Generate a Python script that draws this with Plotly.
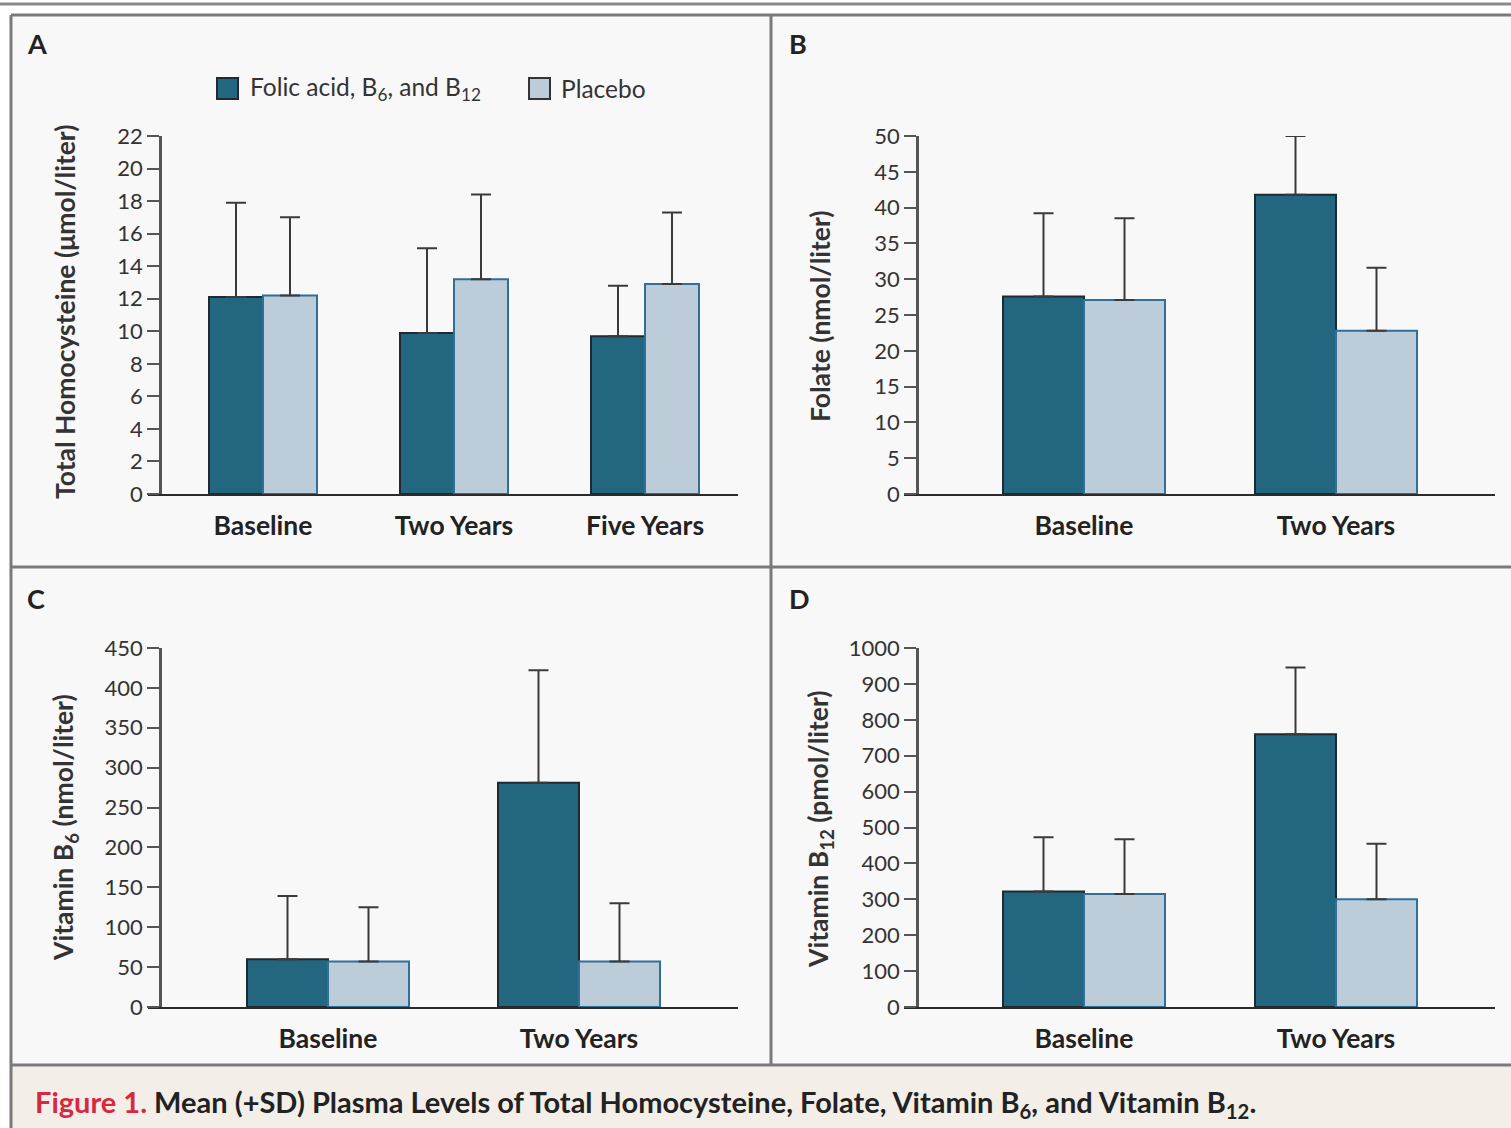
import plotly.graph_objects as go

W, H = 1511, 1128

# ---------------- data ----------------
cats_a = ["Baseline", "Two Years", "Five Years"]
hcy_active = [12.1, 9.9, 9.7]
hcy_active_sd = [5.8, 5.2, 3.1]
hcy_placebo = [12.2, 13.2, 12.9]
hcy_placebo_sd = [4.8, 5.2, 4.4]

cats_b = ["Baseline", "Two Years"]
fol_active = [27.6, 41.8]
fol_active_sd = [11.6, 8.2]
fol_placebo = [27.1, 22.8]
fol_placebo_sd = [11.4, 8.8]

cats_c = ["Baseline", "Two Years"]
b6_active = [60, 281]
b6_active_sd = [79, 141]
b6_placebo = [57, 57]
b6_placebo_sd = [68, 73]

cats_d = ["Baseline", "Two Years"]
b12_active = [322, 760]
b12_active_sd = [151, 186]
b12_placebo = [315, 300]
b12_placebo_sd = [152, 155]

legend_labels = ["Folic acid, B<sub>6</sub>, and B<sub>12</sub>", "Placebo"]
y_titles = ["Total Homocysteine (μmol/liter)", "Folate (nmol/liter)",
            "Vitamin B<sub>6</sub> (nmol/liter)", "Vitamin B<sub>12</sub> (pmol/liter)"]
panel_letters = ["A", "B", "C", "D"]
caption_lead = "Figure 1."
caption_text = ("Mean (+SD) Plasma Levels of Total Homocysteine, Folate, Vitamin B<sub>6</sub>, "
                "and Vitamin B<sub>12</sub>.")

# ---------------- style ----------------
DARK = "#236680"
DARK_LINE = "#1f2a30"
LIGHT = "#bccdd9"
LIGHT_LINE = "#2f6f98"
ERR = "#3a3a3a"
AX = "#2b2b2b"
TICK = "#555555"
PANEL_BG = "#f8f8f8"
CAP_BG = "#f3efe8"
FRAME = "#7a7a7a"
FAM = "Lato, 'Open Sans', sans-serif"


def nfont(size, color="#333", weight="normal"):
    return dict(family=FAM, size=size, color=color, weight=weight)


def px(x):
    return x / W


def py(y):
    return 1 - y / H


fig = go.Figure()

# xd: extent of the baseline (x-axis line); yx: pixel position of the y-axis line
panels = [
    dict(cats=cats_a, act=hcy_active, act_sd=hcy_active_sd, pla=hcy_placebo, pla_sd=hcy_placebo_sd,
         xd=(148, 738), yx=160, yd=(136, 494), yr=22, dt=2, center0=263, step=191, bw=54),
    dict(cats=cats_b, act=fol_active, act_sd=fol_active_sd, pla=fol_placebo, pla_sd=fol_placebo_sd,
         xd=(904, 1495), yx=917, yd=(136, 494), yr=50, dt=5, center0=1084, step=252, bw=81),
    dict(cats=cats_c, act=b6_active, act_sd=b6_active_sd, pla=b6_placebo, pla_sd=b6_placebo_sd,
         xd=(148, 738), yx=160, yd=(648, 1007), yr=450, dt=50, center0=328, step=251, bw=81),
    dict(cats=cats_d, act=b12_active, act_sd=b12_active_sd, pla=b12_placebo, pla_sd=b12_placebo_sd,
         xd=(904, 1495), yx=917, yd=(648, 1007), yr=1000, dt=100, center0=1084, step=252, bw=81),
]

layout_axes = {}
for i, p in enumerate(panels):
    n = "" if i == 0 else str(i + 1)
    xa, ya = "x" + n, "y" + n
    w = p["bw"] / p["step"]
    fig.add_trace(go.Bar(
        x=p["cats"], y=p["act"], xaxis=xa, yaxis=ya, width=w, offset=-w,
        marker=dict(color=DARK, line=dict(color=DARK_LINE, width=2)),
        error_y=dict(type="data", symmetric=False, array=p["act_sd"], arrayminus=[0] * len(p["act"]),
                     color=ERR, thickness=2, width=10),
        showlegend=False, hoverinfo="skip"))
    fig.add_trace(go.Bar(
        x=p["cats"], y=p["pla"], xaxis=xa, yaxis=ya, width=w, offset=0,
        marker=dict(color=LIGHT, line=dict(color=LIGHT_LINE, width=2)),
        error_y=dict(type="data", symmetric=False, array=p["pla_sd"], arrayminus=[0] * len(p["pla"]),
                     color=ERR, thickness=2, width=10),
        showlegend=False, hoverinfo="skip"))
    x0, x1 = p["xd"]
    lo = (x0 - p["center0"]) / p["step"]
    hi = (x1 - p["center0"]) / p["step"]
    layout_axes["xaxis" + n] = dict(
        domain=[px(x0), px(x1)], anchor=ya, range=[lo, hi], type="category", automargin=False,
        showline=True, linecolor=AX, linewidth=2, ticks="", showgrid=False, zeroline=False,
        ticklabelstandoff=7,
        tickfont=nfont(26.5, "#222", "bold"), fixedrange=True)
    layout_axes["yaxis" + n] = dict(
        domain=[py(p["yd"][1]), py(p["yd"][0])], anchor="free", position=px(p["yx"]),
        range=[0, p["yr"]], automargin=False,
        tickmode="linear", tick0=0, dtick=p["dt"], showline=True, linecolor=TICK, linewidth=2.5,
        ticks="outside", ticklen=12, tickwidth=2, tickcolor=TICK, showgrid=False, zeroline=False,
        tickfont=nfont(22, "#333"), fixedrange=True)

fig.update_layout(**layout_axes)

shapes = []
# panel backgrounds
shapes.append(dict(type="rect", xref="paper", yref="paper", x0=px(11), x1=1, y0=py(1066), y1=py(15),
                   fillcolor=PANEL_BG, line=dict(width=0), layer="below"))
shapes.append(dict(type="rect", xref="paper", yref="paper", x0=px(11), x1=1, y0=0, y1=py(1066),
                   fillcolor=CAP_BG, line=dict(width=0), layer="below"))
# top rule
shapes.append(dict(type="line", xref="paper", yref="paper", x0=0, x1=1, y0=py(4), y1=py(4),
                   line=dict(color="#8a8a8a", width=3)))
# frame
shapes.append(dict(type="line", xref="paper", yref="paper", x0=px(11), x1=1, y0=py(15), y1=py(15),
                   line=dict(color=FRAME, width=3)))
shapes.append(dict(type="line", xref="paper", yref="paper", x0=px(11), x1=px(11), y0=0, y1=py(15),
                   line=dict(color=FRAME, width=3)))
shapes.append(dict(type="line", xref="paper", yref="paper", x0=px(771), x1=px(771), y0=py(1065), y1=py(15),
                   line=dict(color=FRAME, width=3)))
shapes.append(dict(type="line", xref="paper", yref="paper", x0=px(11), x1=1, y0=py(567), y1=py(567),
                   line=dict(color=FRAME, width=3)))
shapes.append(dict(type="line", xref="paper", yref="paper", x0=px(11), x1=1, y0=py(1065), y1=py(1065),
                   line=dict(color=FRAME, width=3)))
# legend swatches
shapes.append(dict(type="rect", xref="paper", yref="paper", x0=px(217), x1=px(238), y0=py(99), y1=py(78),
                   fillcolor=DARK, line=dict(color=DARK_LINE, width=2)))
shapes.append(dict(type="rect", xref="paper", yref="paper", x0=px(529), x1=px(550), y0=py(99), y1=py(78),
                   fillcolor=LIGHT, line=dict(color="#333", width=2)))

annotations = []
# legend labels
annotations.append(dict(x=px(248), y=py(89), xref="paper", yref="paper", xanchor="left", yanchor="middle",
                        text=legend_labels[0], showarrow=False, font=nfont(24.5, "#333")))
annotations.append(dict(x=px(559), y=py(89), xref="paper", yref="paper", xanchor="left", yanchor="middle",
                        text=legend_labels[1], showarrow=False, font=nfont(24.5, "#333")))
# panel letters
for letter, (lx, ly) in zip(panel_letters, [(25, 43), (787, 43), (25, 598), (787, 598)]):
    annotations.append(dict(x=px(lx), y=py(ly), xref="paper", yref="paper", xanchor="left", yanchor="middle",
                            text=letter, showarrow=False,
                            font=nfont(27, "#222", "bold")))
# y-axis titles
for t, (tx, ty) in zip(y_titles, [(65, 312), (820, 316), (65, 828), (820, 829)]):
    annotations.append(dict(x=px(tx), y=py(ty), xref="paper", yref="paper", xanchor="center", yanchor="middle",
                            text=t, textangle=-90, showarrow=False,
                            font=nfont(26.5, "#333", "bold")))
# caption
annotations.append(dict(x=px(33), y=py(1103), xref="paper", yref="paper", xanchor="left", yanchor="middle",
                        text="<span style='color:#d8283f'>" + caption_lead + "</span> " + caption_text,
                        showarrow=False, font=nfont(29, "#222", "bold")))

fig.update_layout(
    width=W, height=H, margin=dict(l=0, r=0, t=0, b=0, pad=0, autoexpand=False),
    paper_bgcolor="white", plot_bgcolor="rgba(0,0,0,0)",
    shapes=shapes, annotations=annotations, showlegend=False,
    font=dict(family=FAM),
)

fig.write_html("out.html", config={"displayModeBar": False})
